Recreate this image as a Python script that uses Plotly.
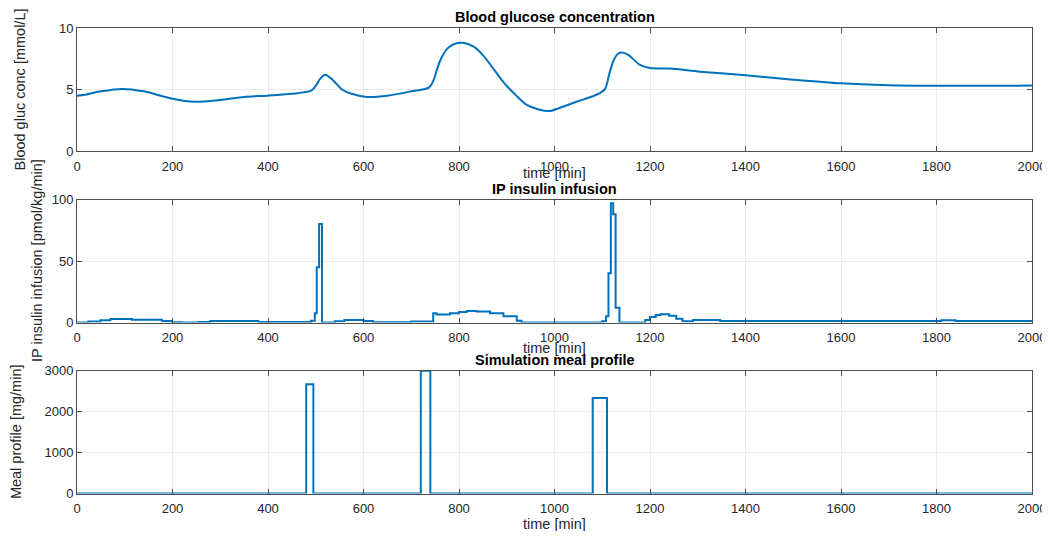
import plotly.graph_objects as go

# ---------------- data ----------------
gluc_t = [0, 20, 50, 95, 140, 200, 245, 300, 350, 400, 450, 490, 500, 510, 520, 535, 555, 575,
          607, 650, 700, 737, 745, 760, 775, 790, 808, 830, 850, 870, 893, 920, 942, 965, 991,
          1010, 1046, 1080, 1095, 1106, 1115, 1123, 1133, 1141, 1155, 1179, 1200, 1242,
          1305, 1400, 1500, 1600, 1700, 1800, 1900, 2000]
gluc_v = [4.5, 4.6, 4.85, 5.05, 4.85, 4.25, 4.0, 4.15, 4.4, 4.5, 4.65, 4.9, 5.3, 5.9, 6.2, 5.8, 5.0, 4.65,
          4.4, 4.5, 4.85, 5.15, 5.6, 7.3, 8.3, 8.7, 8.8, 8.5, 7.8, 6.8, 5.6, 4.5, 3.75, 3.4, 3.25,
          3.5, 4.0, 4.45, 4.7, 5.05, 6.3, 7.3, 7.9, 8.0, 7.8, 7.0, 6.75, 6.7,
          6.45, 6.15, 5.8, 5.5, 5.35, 5.3, 5.3, 5.32]

ins_t = [0, 24, 49, 70, 115, 178, 199, 220, 255, 279, 380, 490, 498, 502, 507, 513, 540, 560, 600,
         620, 700, 746, 753, 781, 800, 816, 837, 865, 893, 921, 931, 1100, 1108, 1113, 1118, 1123,
         1128, 1136, 1190, 1200, 1212, 1222, 1240, 1255, 1268, 1290, 1347, 1810, 1840, 2000]
ins_v = [0, 0.8, 1.8, 2.8, 2.2, 1.2, 0.3, 0, 0.5, 1.2, 0.5, 1.5, 7.5, 45, 80, 0, 1, 2, 1.2,
         0.3, 0.8, 7.5, 6.5, 7.5, 8.5, 9.3, 9, 7.5, 5, 1.5, 0, 1, 5, 40, 97, 88,
         12, 0, 2, 4.5, 6, 6.7, 5.5, 3, 1, 2, 1.2, 1.8, 1.2, 1.2]

meal_t = [0, 480, 495, 720, 740, 1080, 1110, 2000]
meal_v = [0, 2667, 0, 3000, 0, 2333, 0, 0]

x_ticks = [0, 200, 400, 600, 800, 1000, 1200, 1400, 1600, 1800, 2000]
gluc_ticks = [0, 5, 10]
ins_ticks = [0, 50, 100]
meal_ticks = [0, 1000, 2000, 3000]

titles = ["Blood glucose concentration", "IP insulin infusion", "Simulation meal profile"]
ylabels = ["Blood gluc conc [mmol/L]", "IP insulin infusion [pmol/kg/min]", "Meal profile [mg/min]"]
xlabel = "time [min]"

# ---------------- layout helpers ----------------
OFF = 8                      # page body margin
W, H = 1050 - OFF, 539 - 2 * OFF
LINE = "#0072BD"
FONT = "Liberation Sans, Arial, sans-serif"
TXT = "#262626"

def fx(p):
    return (p - OFF) / W

def fy(p):
    return 1 - (p - OFF) / H

xdom = [fx(77), fx(1032)]
panels = [  # (top px, bottom px) in screenshot coordinates
    (28, 151),
    (199.5, 322.5),
    (370.7, 493.5),
]

fig = go.Figure()
fig.add_trace(go.Scatter(x=gluc_t, y=gluc_v, mode="lines", line=dict(color=LINE, width=2, shape="spline", smoothing=0.8),
                         xaxis="x", yaxis="y", showlegend=False))
fig.add_trace(go.Scatter(x=ins_t, y=ins_v, mode="lines", line=dict(color=LINE, width=2, shape="hv"),
                         xaxis="x2", yaxis="y2", showlegend=False))
fig.add_trace(go.Scatter(x=meal_t, y=meal_v, mode="lines", line=dict(color=LINE, width=2, shape="hv"),
                         xaxis="x3", yaxis="y3", showlegend=False))

axis_common = dict(
    showline=True, linecolor="#4d4d4d", linewidth=1, mirror="ticks",
    ticks="inside", ticklen=5, tickcolor="#4d4d4d", tickwidth=1,
    showgrid=True, gridcolor="#ebebeb", gridwidth=1, zeroline=False,
    automargin=False,
    tickfont=dict(family=FONT, size=13, color=TXT),
)

layout = dict(
    template="none",
    width=W, height=H, margin=dict(l=0, r=0, t=0, b=0, pad=0), autosize=False,
    paper_bgcolor="white", plot_bgcolor="white", showlegend=False,
)
yranges = [[0, 10], [0, 100], [0, 3000]]
yticks = [gluc_ticks, ins_ticks, meal_ticks]
annotations = []
ylab_x = [20, 37, 16]
xlab_y = [173, 348, 524]
for i, (top, bot) in enumerate(panels):
    sfx = "" if i == 0 else str(i + 1)
    ydom = [fy(bot), fy(top)]
    layout["xaxis" + sfx] = dict(axis_common, domain=xdom, range=[0, 2000], tickvals=x_ticks,
                                 anchor="y" + sfx, ticklabelstandoff=3)
    layout["yaxis" + sfx] = dict(axis_common, domain=ydom, range=yranges[i], tickvals=yticks[i],
                                 anchor="x" + sfx)
    # title
    annotations.append(dict(text="<b>" + titles[i] + "</b>", xref="paper", yref="paper",
                            x=(xdom[0] + xdom[1]) / 2, y=fy(top - 11), xanchor="center", yanchor="middle",
                            showarrow=False, font=dict(family=FONT, size=14.5, color="black")))
    # x label
    annotations.append(dict(text=xlabel, xref="paper", yref="paper",
                            x=(xdom[0] + xdom[1]) / 2, y=fy(xlab_y[i]), xanchor="center", yanchor="middle",
                            showarrow=False, font=dict(family=FONT, size=14.5, color=TXT)))
    # y label
    annotations.append(dict(text=ylabels[i], xref="paper", yref="paper", textangle=-90,
                            x=fx(ylab_x[i]), y=fy((top + bot) / 2), xanchor="center", yanchor="middle",
                            showarrow=False, font=dict(family=FONT, size=14.5, color=TXT)))

layout["annotations"] = annotations
fig.update_layout(**layout)
fig.write_html("out.html")
